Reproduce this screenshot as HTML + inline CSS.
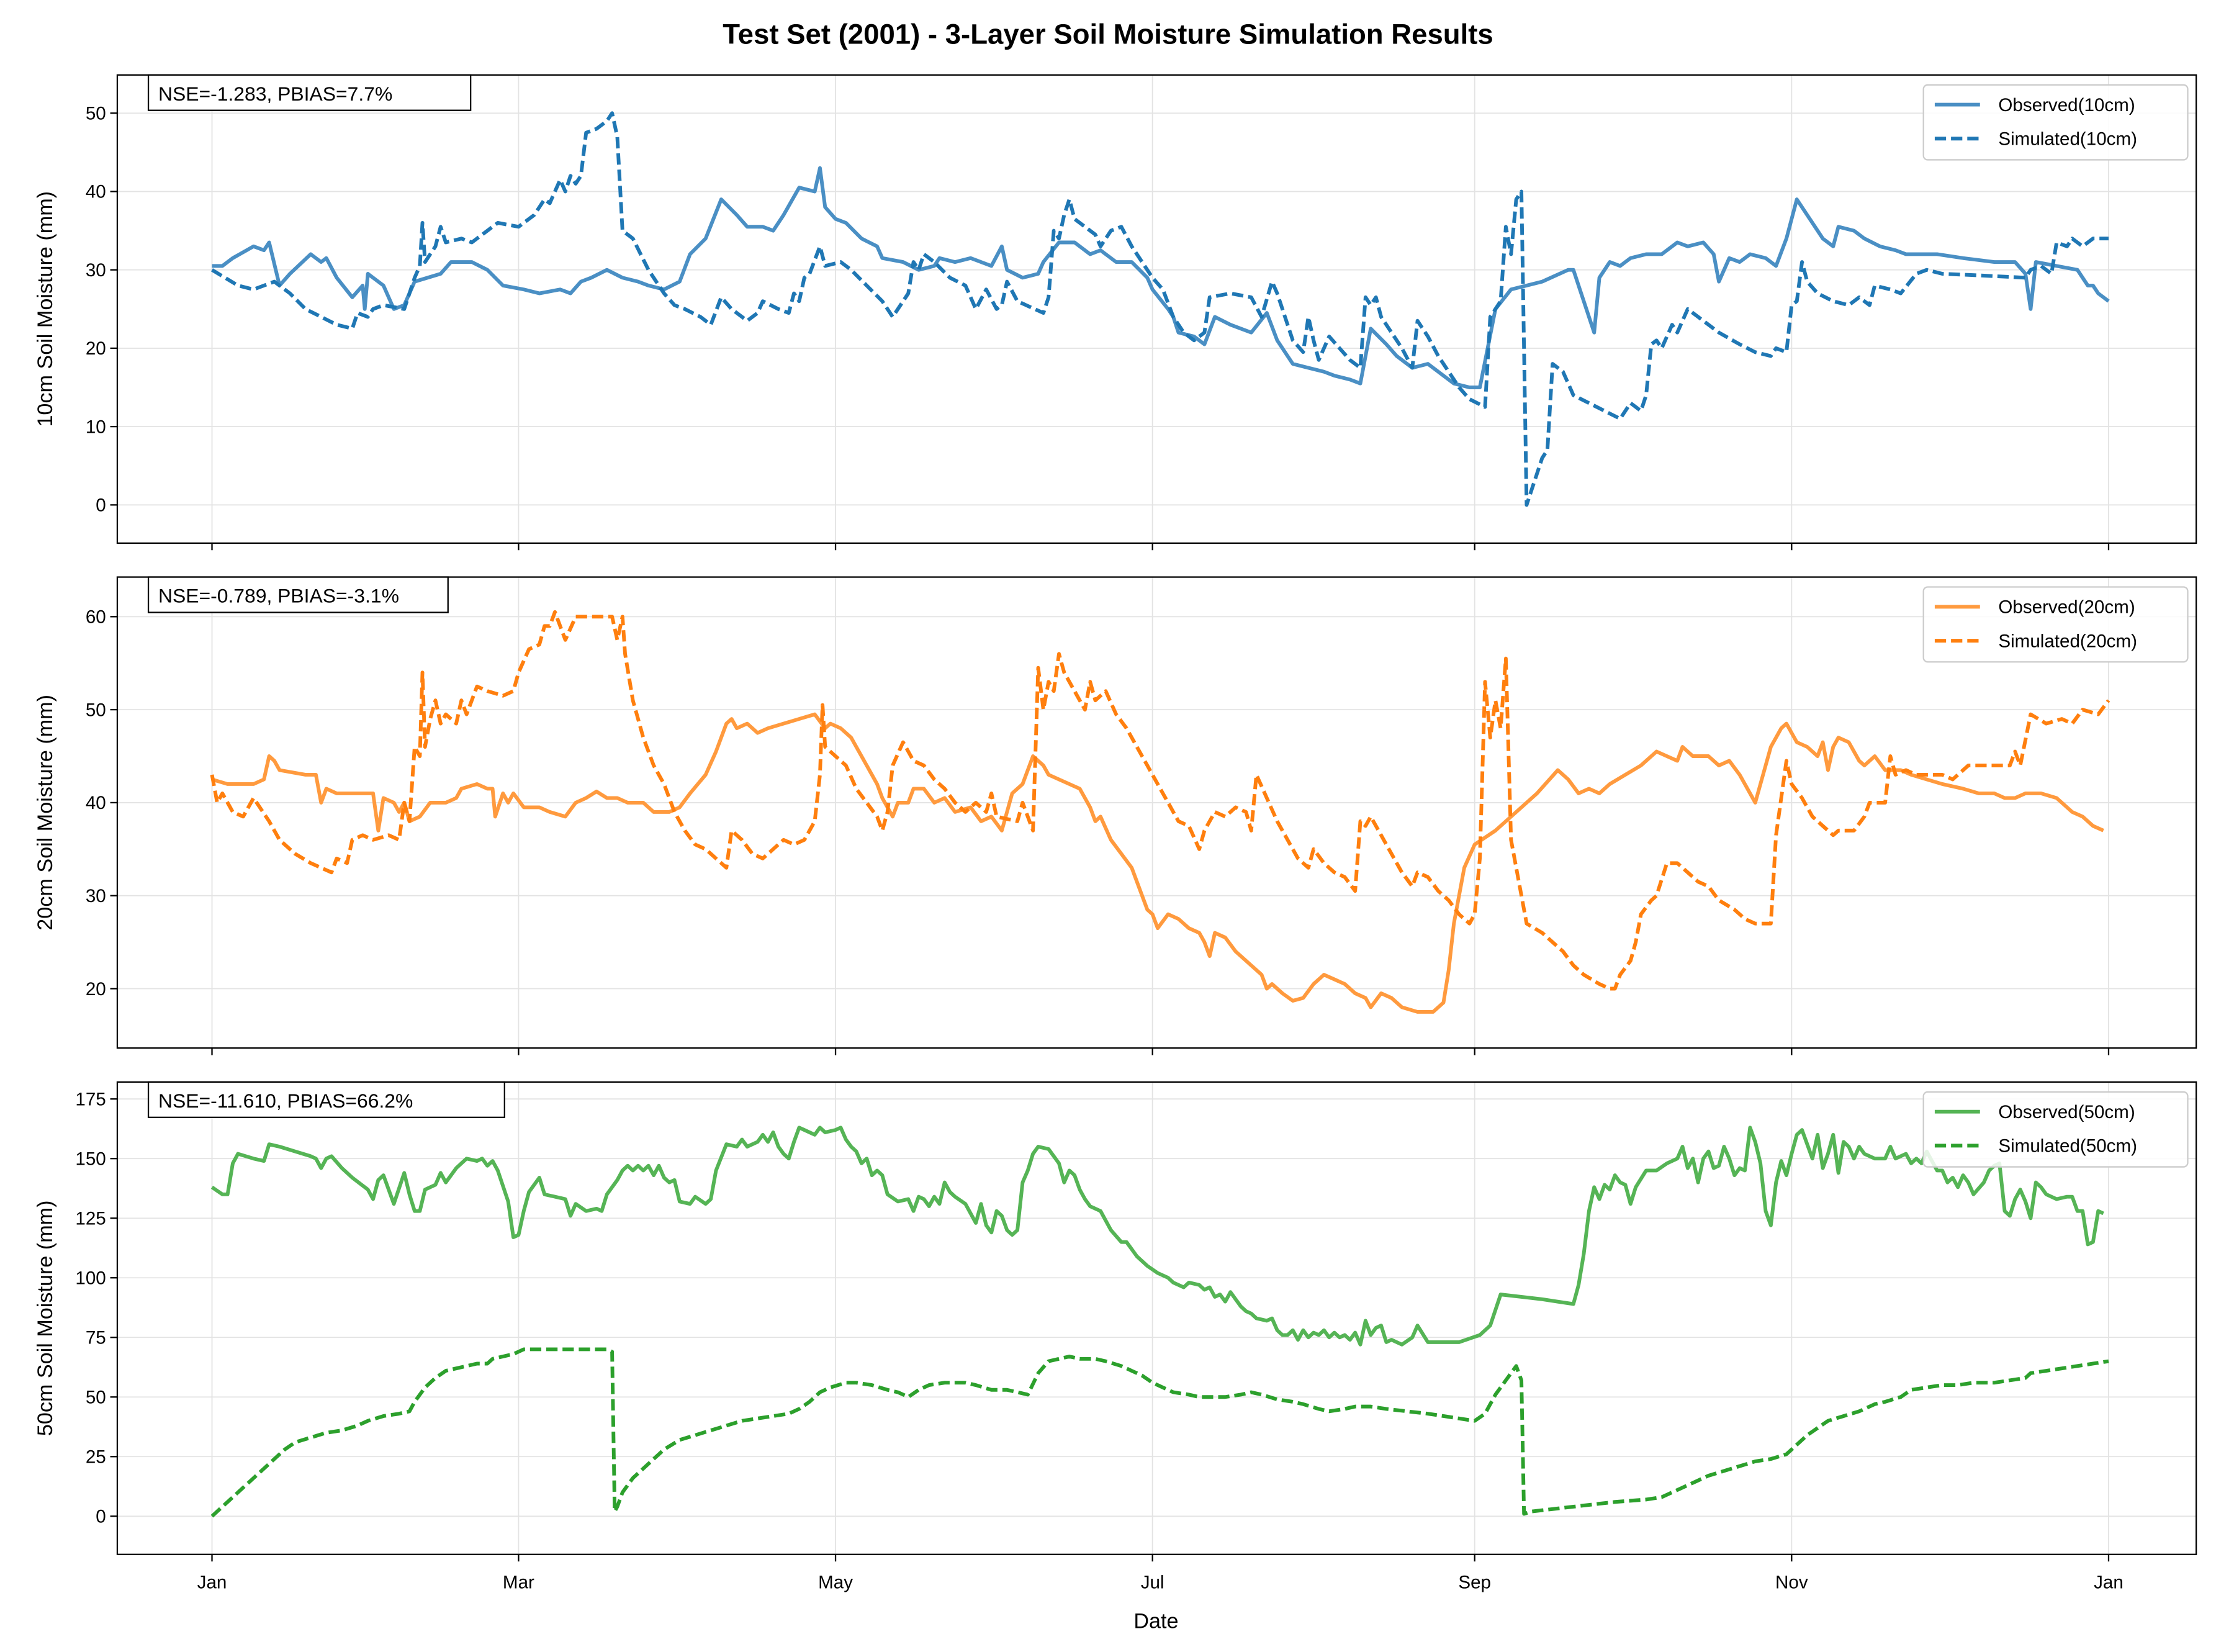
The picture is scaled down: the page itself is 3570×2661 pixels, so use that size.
<!DOCTYPE html>
<html>
<head>
<meta charset="utf-8">
<style>
html,body{margin:0;padding:0;background:#fff;}
svg{display:block;font-family:"Liberation Sans",Arial,sans-serif;}
</style>
</head>
<body>
<svg id="chart" width="3570" height="2661" viewBox="0 0 1568 1168" preserveAspectRatio="none" xmlns="http://www.w3.org/2000/svg">
<rect x="0" y="0" width="1568" height="1168" fill="#fff"/>
<text x="784" y="31" text-anchor="middle" font-size="20" font-weight="bold">Test Set (2001) - 3-Layer Soil Moisture Simulation Results</text>
<g id="plots"></g>
</svg>
<script>
// ---- data (day of year 2001, value mm) ----
const monthTickDays = [0, 59, 120, 181, 243, 304, 365];
const monthTickLabels = ["Jan","Mar","May","Jul","Sep","Nov","Jan"];

const obs10Days = [0,2,4,8,10,11,13,15,19,21,22,24,27,29,29.4,30,33,35,37,39,44,46,50,53,56,60,63,67,69,71,73,76,79,82,84,87,90,92,95,98,101,103,106,108,110,113,116,117,118,120,122,125,128,129,133,136,139,140,143,146,150,152,153,156,159,160,163,166,169,171,174,177,180,181,184,185,186,189,191,193,196,200,203,205,208,211,214,216,219,221,223,226,228,231,234,237,239,242,244,247,250,256,261,262,265,266,267,269,271,273,276,279,282,284,287,289,290,292,294,296,299,301,303,305,307,310,312,313,316,318,321,324,326,332,337,343,347,349,350,351,355,359,361,362,363,365];
const obs10Vals = [30.5,30.5,31.5,33,32.5,33.5,28,29.5,32,31,31.5,29,26.5,28,25,29.5,28,25,25.5,28.5,29.5,31,31,30,28,27.5,27,27.5,27,28.5,29,30,29,28.5,28,27.5,28.5,32,34,39,37,35.5,35.5,35,37,40.5,40,43,38,36.5,36,34,33,31.5,31,30,30.5,31.5,31,31.5,30.5,33,30,29,29.5,31,33.5,33.5,32,32.5,31,31,29,27.5,25,24,22,21.5,20.5,24,23,22,24.5,21,18,17.5,17,16.5,16,15.5,22.5,20.5,19,17.5,18,16.5,15.5,15,15,25,27.5,28.5,30,30,24,22,29,31,30.5,31.5,32,32,33.5,33,33.5,32,28.5,31.5,31,32,31.5,30.5,34,39,37,34,33,35.5,35,34,33,32.5,32,32,31.5,31,31,29.5,25,31,30.5,30,28,28,27,26];

const sim10Days = [0,5,8,12,15,18,21,24,27,28,30,31,33,37,39,40,40.5,41,43,44,45,48,50,52,55,59,62,64,65,67,68,69,70,71,72,74,76,77,78,79,81,84,87,89,91,94,96,98,100,103,105,106,109,111,112,113,114,115,117,118,121,123,126,129,131,133,134,135,136,137,139,142,145,147,149,151,152,153,155,160,161,162,163,164,165,166,168,170,171,173,175,177,179,181,183,185,187,189,191,192,196,200,202,204,205,207,208,210,211,212,213,215,217,219,221,222,223,224,225,227,229,231,232,234,236,238,240,242,245,246,248,249,250,251,252,253,254,256,257,258,260,262,265,268,271,273,275,276,277,278,279,281,282,284,286,288,290,294,297,300,301,303,304,305,306,307,309,312,315,317,319,320,323,325,328,330,333,340,349,350,352,354,355,357,358,360,362,365];
const sim10Vals = [30,28,27.5,28.5,27,25,24,23,22.5,24.5,24,25,25.5,25,29,30.5,36,31,33,35.5,33.5,34,33.5,34.5,36,35.5,37,39,38.5,41.5,40,42,41,42,47.5,48,49,50,47,35,34,30,27,25.5,25,24,23,26.5,25,23.5,24.5,26,25,24.5,27,26,29,29.5,33,30.5,31,30,28,26,24,26,27,31,30,32,31,29,28,25,27.5,25,25.5,28.5,26,24.5,26.5,35,34,37,39,36.5,35.5,34.5,33,35,35.5,33,31,29,27.5,24,22,21,22,26.5,27,26.5,24,28.5,27,23,21,19.5,24,21,18.5,21.5,20,18.5,17.5,26.5,25.5,26.5,24,22,20,17.5,23.5,21.5,19,17,15,13.5,12.5,24,26,35.5,32,39,40,0,2,6,7,18,17,14,13,12,11,13,12,14,20.5,21,20,23,22,25,24,23,22,20.5,19.5,19,20,19.5,25.5,26,31,28.5,27,26,25.5,26.5,25.5,28,27.5,27,29.5,30,29.5,29.3,29,30,30.5,29.5,33.5,33,34,33,34,34];

const obs20Days = [0,3,8,10,11,12,13,18,20,21,22,24,28,31,32,33,35,36,37,38,40,42,45,47,48,51,53,54,54.5,56,57,58,60,63,65,68,70,72,74,76,78,80,83,85,88,90,92,95,97,99,100,101,103,105,107,110,113,116,118,119,121,123,124,126,128,129,130,131,132,134,135,137,139,141,143,146,148,150,152,154,156,158,160,161,163,165,167,169,170,171,173,175,177,179,180,181,182,184,186,188,190,191,192,193,195,197,200,202,203,204,206,208,210,212,214,216,218,220,222,223,225,227,229,232,235,236,237,238,239,240,241,243,247,251,255,259,261,263,265,267,269,272,275,278,280,282,283,285,288,290,292,294,295,297,298,299,300,302,303,305,307,309,310,311,312,313,315,317,318,320,322,325,327,330,333,337,340,343,345,347,349,352,355,358,360,362,364];
const obs20Vals = [42.5,42,42,42.5,45,44.5,43.5,43,43,40,41.5,41,41,41,37,40.5,40,39,40,38,38.5,40,40,40.5,41.5,42,41.5,41.5,38.5,41,40,41,39.5,39.5,39,38.5,40,40.5,41.2,40.5,40.5,40,40,39,39,39.5,41,43,45.5,48.5,49,48,48.5,47.5,48,48.5,49,49.5,48,48.5,48,47,46,44,42,40.5,39.5,38.5,40,40,41.5,41.5,40,40.5,39,39.5,38,38.5,37,41,42,45,44,43,42.5,42,41.5,39.5,38,38.5,36,34.5,33,30,28.5,28,26.5,28,27.5,26.5,26,25,23.5,26,25.5,24,22.5,21.5,20,20.5,19.5,18.7,19,20.5,21.5,21,20.5,19.5,19,18,19.5,19,18,17.5,17.5,18,18.5,22,27,30,33,35.5,37,39,41,43.5,42.5,41,41.5,41,42,43,44,45.5,45,44.5,46,45,45,44,44.5,43,42,40,42,44,46,48,48.5,46.5,46,45,46.5,43.5,46,47,46.5,44.5,44,45,43.5,43.5,43,42.5,42,41.5,41,41,40.5,40.5,41,41,40.5,39,38.5,37.5,37];

const sim20Days = [0,1,2,4,6,8,11,13,16,19,21,23,24,26,27,29,31,34,36,37,38,39,40,40.5,41,42,43,44,45,47,48,49,51,53,56,58,59,61,63,64,65,66,68,70,74,77,78,79,79.5,81,83,85,87,89,91,93,95,97,99,100,102,104,106,108,110,112,114,116,117,117.5,118,120,122,124,126,128,129,130,131,133,135,137,139,141,143,145,147,149,150,151,155,156,158,159,160,161,162,163,164,166,168,169,170,172,174,176,178,180,182,184,186,188,190,191,193,195,197,199,200,201,203,205,207,209,211,212,214,216,218,220,221,222,223,225,227,229,231,232,234,236,238,240,242,243,244,245,246,247,248,249,250,251,252,253,256,258,260,262,264,267,269,270,271,273,274,275,277,278,280,282,284,286,288,290,293,295,297,300,301,303,304,306,308,310,312,313,316,318,319,322,323,324,326,328,330,333,335,338,346,347,348,350,353,356,358,360,363,365];
const sim20Vals = [43,40,41,39,38.5,40.5,38,36,34.5,33.5,33,32.5,34,33.5,36,36.5,36,36.5,36,40,38,46,45,54,46,49,51,48.5,49.5,48.5,51,49.5,52.5,52,51.5,52,54,56.5,57,59,59,60.5,57.5,60,60,60,57.5,60,56,51,47,44,42,39,37,35.5,35,34,33,37,36,34.5,34,35,36,35.5,36,38,43,50.5,46,45,44,41.5,40,38.5,37,39,44,46.5,44.5,44,42.5,41.5,40,39,40,39,41,38.5,38,40,37,54.5,50,53,52,56,54,52,50,53,51,52,49.5,48,46,44,42,40,38,37.5,35,37,39,38.5,39.5,39,37,43,40.5,38,36,34,33,35,33.5,32.5,32,30.5,38,37.5,38.5,36.5,34.5,32.5,31,32.5,32,30.5,29.5,28,27,28,34,53,47,51,48,55.5,36,33,30,27,26,25,24,22.5,21.5,20.5,20,20,21.5,23,25,28,29.5,30,33.5,33.5,32.5,31.5,31,29.5,28.5,27.5,27,27,36.5,44.5,42,40.5,38.5,37.5,36.5,37,37,38.5,40,40,45,43,43.5,43,43,43,42.5,44,44,45.5,44,49.5,48.5,49,48.5,50,49.5,51];

const obs50Days = [0,2,3,4,5,8,10,11,13,16,19,20,21,22,23,25,27,30,31,32,33,35,37,38,39,40,41,43,44,45,47,49,51,52,53,54,55,57,58,59,60,61,63,64,66,68,69,70,72,74,75,76,78,79,80,81,82,83,84,85,86,87,88,89,90,92,93,95,96,97,99,101,102,103,105,106,107,108,109,110,111,112,113,114,116,117,118,120,121,122,123,124,125,126,127,128,129,130,132,134,135,136,137,138,139,140,141,142,143,145,146,147,148,149,150,151,152,153,154,155,156,157,158,159,161,163,164,165,166,167,168,169,171,173,175,176,177,178,180,182,184,185,187,188,190,191,192,193,194,195,196,198,199,200,201,203,204,205,206,207,208,209,210,211,212,213,214,215,216,217,218,219,220,221,222,223,224,225,226,227,229,231,232,234,237,240,244,246,248,252,256,259,262,263,264,265,266,267,268,269,270,271,272,273,274,276,278,280,282,283,284,285,286,287,288,289,290,291,292,293,294,295,296,297,298,299,300,301,302,303,304,305,306,307,308,309,310,311,312,313,314,315,316,317,318,320,322,323,324,326,327,328,329,330,332,333,334,335,336,337,338,339,341,342,343,344,345,346,347,348,349,350,351,352,353,355,357,358,359,360,361,362,363,364];
const obs50Vals = [138,135,135,148,152,150,149,156,155,153,151,150,146,150,151,146,142,137,133,141,143,131,144,135,128,128,137,139,144,140,146,150,149,150,147,149,145,132,117,118,128,136,142,135,134,133,126,131,128,129,128,135,141,145,147,145,147,145,147,143,147,142,140,141,132,131,134,131,133,145,156,155,158,155,157,160,157,161,155,152,150,157,163,162,160,163,161,162,163,158,155,153,148,150,143,145,143,135,132,133,128,134,133,130,134,131,140,136,134,131,127,123,131,122,119,128,126,120,118,120,140,145,152,155,154,148,140,145,143,137,133,130,128,120,115,115,112,109,105,102,100,98,96,98,97,95,96,92,93,90,94,88,86,85,83,82,83,78,76,76,78,74,78,75,77,76,78,75,77,75,76,74,77,72,82,76,79,80,73,74,72,75,80,73,73,73,76,80,93,92,91,90,89,97,110,128,138,133,139,137,143,140,139,131,138,145,145,148,150,155,146,150,140,150,153,146,147,155,150,143,146,145,163,157,148,128,122,140,149,143,152,160,162,156,150,160,146,152,160,144,157,155,150,155,152,150,150,155,150,152,148,150,148,153,145,145,140,142,138,143,140,135,140,145,147,148,128,126,133,137,132,125,140,138,135,133,134,134,128,128,114,115,128,127];

const sim50Days = [0,3,6,9,12,14,16,19,22,25,28,30,33,36,38,39,41,43,45,47,49,51,53,54,56,58,60,65,70,76,77,77.5,78,79,81,84,87,90,93,96,99,102,105,108,111,113,115,117,119,122,124,127,130,132,134,136,138,141,145,147,150,153,155,157,159,161,163,165,167,170,172,175,177,179,181,183,185,188,190,195,198,200,202,205,208,210,213,215,218,220,223,226,230,234,237,240,243,245,247,249,251,252,252.5,254,258,262,266,270,276,279,282,285,288,291,294,297,300,303,305,307,309,311,314,317,320,322,325,327,330,333,336,339,343,346,349,350,353,356,359,362,365];
const sim50Vals = [0,6,12,18,24,28,31,33,35,36,38,40,42,43,44,48,54,58,61,62,63,64,64,66,67,68,70,70,70,70,69,2,4,10,16,22,28,32,34,36,38,40,41,42,43,45,48,52,54,56,56,55,53,52,50,53,55,56,56,55,53,53,52,51,60,65,66,67,66,66,65,63,61,59,56,54,52,51,50,50,51,52,51,49,48,47,45,44,45,46,46,45,44,43,42,41,40,43,51,57,63,57,1,2,3,4,5,6,7,8,11,14,17,19,21,23,24,26,30,34,37,40,42,44,47,48,50,53,54,55,55,56,56,57,58,60,61,62,63,64,65];

const yTicks10 = [0,10,20,30,40,50];
const yTicks20 = [20,30,40,50,60];
const yTicks50 = [0,25,50,75,100,125,150,175];

// ---- layout ----
const NS = "http://www.w3.org/2000/svg";
const root = document.getElementById('plots');
const L = 83, R = 1554;
const xScale = d => 150 + d * (1492 - 150) / 365;

function el(tag, attrs, parent) {
  const e = document.createElementNS(NS, tag);
  for (const k in attrs) e.setAttribute(k, attrs[k]);
  (parent || root).appendChild(e);
  return e;
}

const panels = [
  {top:53, bot:384, y0:0, py0:357, y1:50, py1:80, ticks:yTicks10, label:"10cm Soil Moisture (mm)",
   stat:"NSE=-1.283, PBIAS=7.7%", statW:228, color:"#1f77b4", obsColor:"#4a8fc4",
   obs:[obs10Days,obs10Vals], sim:[sim10Days,sim10Vals], obsName:"Observed(10cm)", simName:"Simulated(10cm)", key:"10cm"},
  {top:408, bot:741, y0:20, py0:699, y1:60, py1:436, ticks:yTicks20, label:"20cm Soil Moisture (mm)",
   stat:"NSE=-0.789, PBIAS=-3.1%", statW:212, color:"#ff7f0e", obsColor:"#ff9a3e",
   obs:[obs20Days,obs20Vals], sim:[sim20Days,sim20Vals], obsName:"Observed(20cm)", simName:"Simulated(20cm)", key:"20cm"},
  {top:765, bot:1099, y0:0, py0:1072, y1:175, py1:777, ticks:yTicks50, label:"50cm Soil Moisture (mm)",
   stat:"NSE=-11.610, PBIAS=66.2%", statW:252, color:"#2ca02c", obsColor:"#55b455",
   obs:[obs50Days,obs50Vals], sim:[sim50Days,sim50Vals], obsName:"Observed(50cm)", simName:"Simulated(50cm)", key:"50cm"}
];

panels.forEach((p, idx) => {
  const yScale = v => p.py0 + (v - p.y0) * (p.py1 - p.py0) / (p.y1 - p.y0);
  const g = el('g', {}, root);
  
  
  // grid
  monthTickDays.forEach(d => {
    const gl = el('line', {x1:xScale(d), x2:xScale(d), y1:p.top, y2:p.bot, stroke:'#e3e3e3', 'stroke-width':0.8}, g);
    
    
  });
  p.ticks.forEach(t => {
    const y = yScale(t);
    const gl = el('line', {x1:L, x2:R, y1:y, y2:y, stroke:'#e3e3e3', 'stroke-width':0.8}, g);
    
    
    const tk = el('line', {x1:L-5, x2:L, y1:y, y2:y, stroke:'#000', 'stroke-width':1}, g);
    
    
    const tl = el('text', {x:L-8, y:y+4.5, 'text-anchor':'end', 'font-size':13}, g);
    tl.textContent = t;
    
    
  });
  monthTickDays.forEach((d, i) => {
    const tk = el('line', {x1:xScale(d), x2:xScale(d), y1:p.bot, y2:p.bot+5, stroke:'#000', 'stroke-width':1}, g);
    
    
    if (idx === 2) {
      const tl = el('text', {x:xScale(d), y:p.bot+24, 'text-anchor':'middle', 'font-size':13}, g);
      tl.textContent = monthTickLabels[i];
      
      
    }
  });
  // series
  const pathOf = (days, vals) => days.map((d, i) => (i ? 'L' : 'M') + xScale(d).toFixed(2) + ',' + yScale(vals[i]).toFixed(2)).join('');
  const ob = el('path', {d:pathOf(p.obs[0], p.obs[1]), fill:'none', stroke:p.obsColor, 'stroke-width':2.6, 'stroke-linejoin':'round'}, g);
  
  
  const sm = el('path', {d:pathOf(p.sim[0], p.sim[1]), fill:'none', stroke:p.color, 'stroke-width':2.6, 'stroke-dasharray':'8,3.5', 'stroke-linejoin':'round'}, g);
  
  
  // frame
  const fr = el('rect', {x:L, y:p.top, width:R-L, height:p.bot-p.top, fill:'none', stroke:'#000', 'stroke-width':1}, g);
  
  
  // y label
  const cy = (p.top + p.bot) / 2;
  const yl = el('text', {x:37, y:cy, 'text-anchor':'middle', 'font-size':15, transform:'rotate(-90 37 ' + cy + ')'}, g);
  yl.textContent = p.label;
  
  
  // stat box
  const sb = el('rect', {x:105, y:p.top, width:p.statW, height:25, fill:'#fff', stroke:'#000', 'stroke-width':1}, g);
  
  
  const st = el('text', {x:112, y:p.top+18, 'font-size':14}, g);
  st.textContent = p.stat;
  
  
  // legend
  const lg = el('g', {}, g);
  
  
  const lb = el('rect', {x:1361, y:p.top+7, width:187, height:53, rx:3, fill:'#fff', 'fill-opacity':0.85, stroke:'#ccc', 'stroke-width':1}, lg);
  
  
  [[p.obsName, p.obsColor, null], [p.simName, p.color, '8,3.5']].forEach((e, i) => {
    const y = p.top + 21 + i * 24;
    const ln = el('line', {x1:1369, x2:1401, y1:y, y2:y, stroke:e[1], 'stroke-width':2.6}, lg);
    if (e[2]) ln.setAttribute('stroke-dasharray', e[2]);
    
    
    const tx = el('text', {x:1414, y:y+4.5, 'font-size':13}, lg);
    tx.textContent = e[0];
    
    
  });
});

const xt = el('text', {x:818, y:1151, 'text-anchor':'middle', 'font-size':15}, root);
xt.textContent = 'Date';


</script>
</body>
</html>
